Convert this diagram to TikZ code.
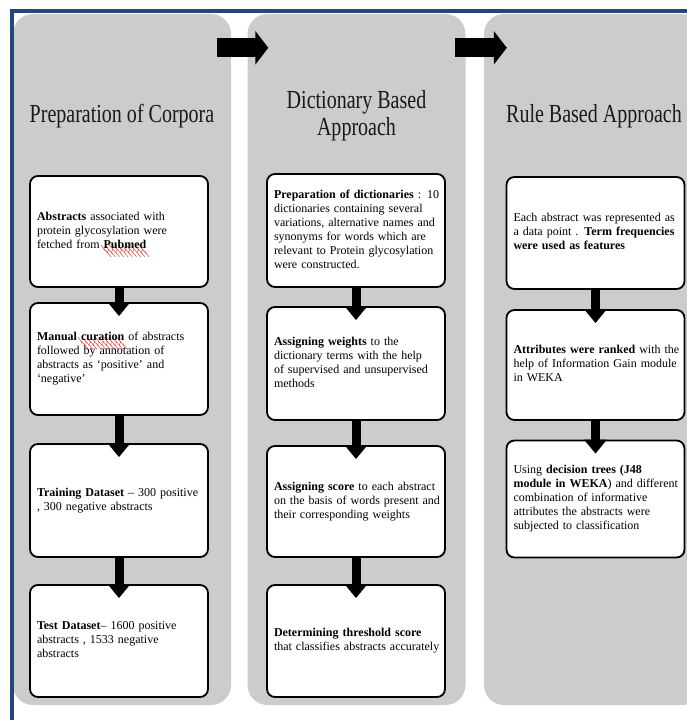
\documentclass[tikz,border=0pt]{standalone}
\usepackage{fontspec}
\setmainfont{Liberation Serif}
\newfontfamily\titlefont{Liberation Serif}[FakeStretch=0.77]
\usetikzlibrary{arrows.meta}
\definecolor{frameblue}{HTML}{1F497D}
\definecolor{panelgray}{HTML}{CCCCCC}
\definecolor{spellred}{HTML}{E8302A}
% red spell-check wave under a word
\newcommand\wavepiece{\begin{pgfpicture}\pgfsetlinewidth{0.4pt}%
  \pgfpathmoveto{\pgfpointorigin}%
  \pgfpathcurveto{\pgfpoint{0.6pt}{0.7pt}}{\pgfpoint{1.2pt}{0.7pt}}{\pgfpoint{1.8pt}{0pt}}%
  \pgfpathcurveto{\pgfpoint{2.4pt}{-0.7pt}}{\pgfpoint{3pt}{-0.7pt}}{\pgfpoint{3.6pt}{0pt}}%
  \pgfusepath{stroke}\end{pgfpicture}}
\newsavebox\wavebox
\newcommand\spellwave[1]{\sbox\wavebox{#1}\leavevmode
  \rlap{\raisebox{-3.5pt}[0pt][0pt]{\hbox to\wd\wavebox{\color{spellred}\xleaders\hbox{\wavepiece}\hfil}}}%
  \usebox\wavebox}
% lines of a step, never broken
\newcommand\steplines[1]{\begin{tabular}{@{}l@{}}#1\end{tabular}}
\tikzset{
  % stages
  panel/.style={fill=panelgray,rounded corners=20pt,minimum width=218pt,
                minimum height=691pt,inner sep=0pt},
  stagetitle/.style={font=\titlefont\fontsize{26}{27}\selectfont,align=center,
                     text=black!90},
  stagearrow/.style={line width=19pt,-{Triangle[length=13pt,width=33pt]}},
  % steps
  stepbox/.style={draw=black,fill=white,line width=1.8pt,rounded corners=8pt,
                  minimum width=178pt,text width=164pt,inner sep=7pt,align=left,
                  font=\fontsize{12}{14}\selectfont},
  steparrow/.style={line width=9pt,-{Triangle[length=14pt,width=22pt]}},
  blueframe/.style={draw=frameblue,line width=4pt},
}
\begin{document}
\begin{tikzpicture}[x=1pt,y=-1pt]
\useasboundingbox (0,0) rectangle (687,720);
\clip (0,0) rectangle (687,720);
  \node[panel] (prep) at (122,359.5) {};
  \node[panel] (dict) at (356.5,359.5) {};
  \node[panel] (rule) at (593,359.5) {};
  \draw[blueframe] (12,11) rectangle (900,900);
  \draw[stagearrow] ([xshift=-14pt,yshift=-34pt]prep.north east) -- ([xshift=21pt,yshift=-34pt]dict.north west);
  \draw[stagearrow] ([xshift=-11pt,yshift=-34pt]dict.north east) -- ([xshift=23pt,yshift=-34pt]rule.north west);
  \node[stagetitle] (tprep) at (122,116) {Preparation of Corpora};
  \node[stagetitle] (tdict) at (356.5,116) {Dictionary Based\\Approach};
  \node[stagetitle] (trule) at (594,116) {Rule Based Approach};
  % corpora
  \node[stepbox,minimum height=111pt] (abs) at (119,231.5)
    {\steplines{\textbf{Abstracts} associated with\\protein glycosylation were\\fetched from \textbf{\spellwave{Pubmed}}}};
  \node[stepbox,minimum height=112pt] (cur) at (119,359)
    {\steplines{\textbf{Manual \spellwave{curation}} of abstracts\\followed by annotation of\\abstracts as `positive' and\\`negative'}};
  \node[stepbox,minimum height=113pt] (train) at (119,500.5)
    {\steplines{\textbf{Training Dataset} -- 300 positive\\, 300 negative abstracts}};
  \node[stepbox,minimum height=112pt] (test) at (119,641)
    {\steplines{\textbf{Test Dataset}-- 1600 positive\\abstracts , 1533 negative\\abstracts}};
  % dictionary
  \node[stepbox,minimum height=113pt] (dicts) at (356,230.5)
    {\steplines{\textbf{Preparation of dictionaries} : 10\\dictionaries containing several\\variations, alternative names and\\synonyms for words which are\\relevant to Protein glycosylation\\were constructed.}};
  \node[stepbox,minimum height=113pt] (wts) at (356,363.5)
    {\steplines{\textbf{Assigning weights} to the\\dictionary terms with the help\\of supervised and unsupervised\\methods}};
  \node[stepbox,minimum height=111pt] (score) at (356,501.5)
    {\steplines{\textbf{Assigning score} to each abstract\\on the basis of words present and\\their corresponding weights}};
  \node[stepbox,minimum height=112pt] (thr) at (356,641)
    {\steplines{\textbf{Determining threshold score}\\that classifies abstracts accurately}};
  % rules
  \node[stepbox,minimum height=112pt] (rep) at (595.5,233)
    {\steplines{Each abstract was represented as\\a data point . \textbf{Term frequencies}\\\textbf{were used as features}}};
  \node[stepbox,minimum height=110pt] (rank) at (595.5,365)
    {\steplines{\textbf{Attributes were ranked} with the\\help of Information Gain module\\in WEKA}};
  \node[stepbox,minimum height=117pt] (tree) at (595.5,499)
    {\steplines{Using \textbf{decision trees (J48}\\\textbf{module in WEKA}) and different\\combination of informative\\attributes the abstracts were\\subjected to classification}};
  \draw[steparrow] (abs.south) -- ([yshift=-14pt]cur.north);
  \draw[steparrow] (cur.south) -- ([yshift=-14pt]train.north);
  \draw[steparrow] (train.south) -- ([yshift=-14pt]test.north);
  \draw[steparrow] (dicts.south) -- ([yshift=-14pt]wts.north);
  \draw[steparrow] (wts.south) -- ([yshift=-14pt]score.north);
  \draw[steparrow] (score.south) -- ([yshift=-14pt]thr.north);
  \draw[steparrow] (rep.south) -- ([yshift=-14pt]rank.north);
  \draw[steparrow] (rank.south) -- ([yshift=-14pt]tree.north);
\end{tikzpicture}
\end{document}
